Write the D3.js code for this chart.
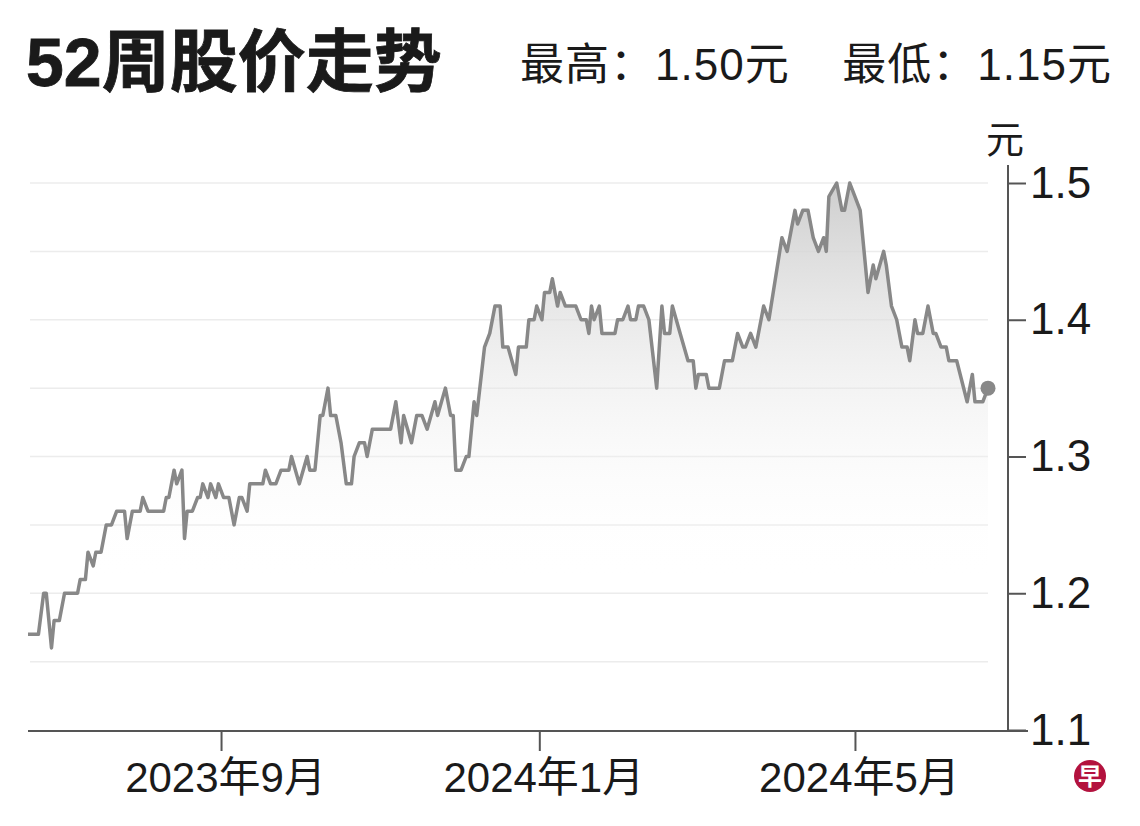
<!DOCTYPE html>
<html>
<head>
<meta charset="utf-8">
<script src="https://cdn.jsdelivr.net/npm/d3@7"></script>
<style>
  body { margin: 0; background: #fff; }
  svg text { font-family: "Liberation Sans", Arial, "Noto Sans CJK SC", sans-serif; fill: #1a1a1a; }
  .title { font-weight: bold; }
  .axis path { display: none; }
  .axis line { stroke: #555; stroke-width: 2; }
</style>
</head>
<body>
<div id="chart"></div>
<script>
// daily close
const dates = [
  '2023-06-19','2023-06-23','2023-06-25','2023-06-26','2023-06-28','2023-06-29','2023-07-01','2023-07-03','2023-07-08','2023-07-09',
  '2023-07-11','2023-07-12','2023-07-14','2023-07-15','2023-07-17','2023-07-19','2023-07-21','2023-07-23','2023-07-26','2023-07-27',
  '2023-07-29','2023-08-01','2023-08-02','2023-08-04','2023-08-10','2023-08-11','2023-08-12','2023-08-14','2023-08-15','2023-08-17',
  '2023-08-18','2023-08-19','2023-08-21','2023-08-23','2023-08-24','2023-08-25','2023-08-27','2023-08-28','2023-08-30','2023-08-31',
  '2023-09-02','2023-09-04','2023-09-06','2023-09-08','2023-09-09','2023-09-11','2023-09-12','2023-09-17','2023-09-18','2023-09-20',
  '2023-09-22','2023-09-24','2023-09-27','2023-09-28','2023-10-01','2023-10-04','2023-10-05','2023-10-07','2023-10-09','2023-10-10',
  '2023-10-12','2023-10-13','2023-10-15','2023-10-17','2023-10-19','2023-10-21','2023-10-22','2023-10-24','2023-10-26','2023-10-27',
  '2023-10-29','2023-11-05','2023-11-07','2023-11-09','2023-11-10','2023-11-13','2023-11-15','2023-11-17','2023-11-19','2023-11-22',
  '2023-11-23','2023-11-26','2023-11-28','2023-11-29','2023-11-30','2023-12-02','2023-12-04','2023-12-05','2023-12-07','2023-12-08',
  '2023-12-11','2023-12-13','2023-12-15','2023-12-17','2023-12-18','2023-12-20','2023-12-23','2023-12-24','2023-12-27','2023-12-28',
  '2023-12-30','2023-12-31','2024-01-02','2024-01-03','2024-01-05','2024-01-06','2024-01-08','2024-01-09','2024-01-11','2024-01-15',
  '2024-01-17','2024-01-19','2024-01-20','2024-01-21','2024-01-22','2024-01-24','2024-01-25','2024-01-30','2024-01-31','2024-02-02',
  '2024-02-04','2024-02-05','2024-02-07','2024-02-08','2024-02-10','2024-02-12','2024-02-15','2024-02-17','2024-02-18','2024-02-20',
  '2024-02-21','2024-02-24','2024-02-27','2024-02-29','2024-03-01','2024-03-02','2024-03-05','2024-03-06','2024-03-10','2024-03-12',
  '2024-03-15','2024-03-17','2024-03-19','2024-03-20','2024-03-22','2024-03-24','2024-03-27','2024-03-29','2024-04-03','2024-04-05',
  '2024-04-08','2024-04-09','2024-04-11','2024-04-13','2024-04-15','2024-04-17','2024-04-19','2024-04-20','2024-04-21','2024-04-24',
  '2024-04-26','2024-04-27','2024-04-29','2024-05-01','2024-05-03','2024-05-06','2024-05-08','2024-05-09','2024-05-12','2024-05-13',
  '2024-05-15','2024-05-17','2024-05-19','2024-05-21','2024-05-22','2024-05-24','2024-05-25','2024-05-27','2024-05-29','2024-05-31',
  '2024-06-01','2024-06-03','2024-06-05','2024-06-06','2024-06-09','2024-06-13','2024-06-15','2024-06-16','2024-06-19','2024-06-21'
]
const prices = [
  1.17,1.17,1.20,1.20,1.16,1.18,1.18,1.20,1.20,1.21,
  1.21,1.23,1.22,1.23,1.23,1.25,1.25,1.26,1.26,1.24,
  1.26,1.26,1.27,1.26,1.26,1.27,1.27,1.29,1.28,1.29,
  1.24,1.26,1.26,1.27,1.27,1.28,1.27,1.28,1.27,1.28,
  1.27,1.27,1.25,1.27,1.27,1.26,1.28,1.28,1.29,1.28,
  1.28,1.29,1.29,1.30,1.28,1.30,1.29,1.29,1.33,1.33,
  1.35,1.33,1.33,1.31,1.28,1.28,1.30,1.31,1.31,1.30,
  1.32,1.32,1.34,1.31,1.33,1.31,1.33,1.33,1.32,1.34,
  1.33,1.35,1.33,1.33,1.29,1.29,1.30,1.30,1.34,1.33,
  1.38,1.39,1.41,1.41,1.38,1.38,1.36,1.38,1.38,1.40,
  1.40,1.41,1.40,1.42,1.42,1.43,1.41,1.42,1.41,1.41,
  1.40,1.40,1.39,1.41,1.40,1.41,1.39,1.39,1.40,1.40,
  1.41,1.40,1.40,1.41,1.41,1.40,1.35,1.41,1.39,1.39,
  1.41,1.39,1.37,1.37,1.35,1.36,1.36,1.35,1.35,1.37,
  1.37,1.39,1.38,1.38,1.39,1.38,1.41,1.40,1.46,1.45,
  1.48,1.47,1.48,1.48,1.46,1.45,1.46,1.45,1.49,1.50,
  1.48,1.48,1.50,1.49,1.48,1.42,1.44,1.43,1.45,1.44,
  1.41,1.40,1.38,1.38,1.37,1.40,1.39,1.39,1.41,1.39,
  1.39,1.38,1.38,1.37,1.37,1.34,1.36,1.34,1.34,1.35
]
const yTicks = [1.1, 1.2, 1.3, 1.4, 1.5]
const gridLevels = [1.15, 1.2, 1.25, 1.3, 1.35, 1.4, 1.45, 1.5]
const xTicks = ['2023-09-01', '2024-01-01', '2024-05-01']
const title = '52周股价走势'
const highText = '最高：1.50元'
const lowText = '最低：1.15元'
const unit = '元'

const W = 1140, H = 826
const parse = d3.timeParse('%Y-%m-%d')
const data = dates.map((d, i) => ({date: parse(d), price: prices[i]}))

const svg = d3.select('#chart').append('svg')
  .attr('width', W).attr('height', H)

const x = d3.scaleTime()
  .domain(d3.extent(data, d => d.date))
  .range([28, 988])

const y = d3.scaleLinear()
  .domain([1.1, 1.5])
  .range([730, 183])

// gridlines
svg.append('g').selectAll('line')
  .data(gridLevels)
  .join('line')
  .attr('x1', 30).attr('x2', 988)
  .attr('y1', d => y(d)).attr('y2', d => y(d))
  .attr('stroke', '#ececec').attr('stroke-width', 1.5)

// area gradient
const grad = svg.append('defs').append('linearGradient')
  .attr('id', 'fade').attr('gradientUnits', 'userSpaceOnUse')
  .attr('x1', 0).attr('x2', 0).attr('y1', y(1.5)).attr('y2', y(1.21))
grad.append('stop').attr('offset', 0).attr('stop-color', '#cecece')
grad.append('stop').attr('offset', 1).attr('stop-color', '#ffffff').attr('stop-opacity', 0)

const area = d3.area()
  .x(d => x(d.date))
  .y0(y(1.1))
  .y1(d => y(d.price))

svg.append('path')
  .datum(data)
  .attr('d', area)
  .attr('fill', 'url(#fade)')

const line = d3.line()
  .x(d => x(d.date))
  .y(d => y(d.price))

svg.append('path')
  .datum(data)
  .attr('d', line)
  .attr('fill', 'none')
  .attr('stroke', '#888')
  .attr('stroke-width', 3.5)
  .attr('stroke-linejoin', 'round')

const last = data[data.length - 1]
svg.append('circle')
  .attr('cx', x(last.date)).attr('cy', y(last.price))
  .attr('r', 7.5).attr('fill', '#888')

// axes
const axisX = 1008
svg.append('line')
  .attr('x1', 28).attr('x2', 1028)
  .attr('y1', y(1.1) + 1).attr('y2', y(1.1) + 1)
  .attr('stroke', '#555').attr('stroke-width', 2)
svg.append('line')
  .attr('x1', axisX).attr('x2', axisX)
  .attr('y1', 165).attr('y2', y(1.1) + 1)
  .attr('stroke', '#555').attr('stroke-width', 2)

svg.append('g').attr('class', 'axis')
  .attr('transform', `translate(${axisX},0)`)
  .call(d3.axisRight(y).tickValues(yTicks).tickSize(18).tickPadding(4).tickFormat(d3.format('.1f')))
  .call(g => g.selectAll('text').attr('font-size', 44).attr('fill', '#1a1a1a'))

svg.append('g').attr('class', 'axis')
  .attr('transform', `translate(0,${y(1.1) + 1})`)
  .call(d3.axisBottom(x).tickValues(xTicks.map(parse)).tickSize(20).tickPadding(11)
    .tickFormat(d => `${d.getFullYear()}年${d.getMonth() + 1}月`))
  .call(g => g.selectAll('text').attr('font-size', 42).attr('fill', '#1a1a1a').attr('dx', 4))

svg.append('text')
  .attr('x', axisX - 3).attr('y', 153)
  .attr('text-anchor', 'middle')
  .attr('font-size', 38)
  .text(unit)

// header
svg.append('text').attr('class', 'title')
  .attr('x', 26).attr('y', 86)
  .attr('font-size', 68)
  .attr('stroke', '#1a1a1a').attr('stroke-width', 0.8)
  .text(title)
svg.append('text')
  .attr('x', 520).attr('y', 80)
  .attr('font-size', 44).attr('letter-spacing', 1)
  .text(highText)
svg.append('text')
  .attr('x', 1112).attr('y', 80)
  .attr('text-anchor', 'end')
  .attr('font-size', 44).attr('letter-spacing', 1)
  .text(lowText)

// logo
svg.append('circle').attr('cx', 1090).attr('cy', 776).attr('r', 16).attr('fill', '#b3123e')
svg.append('text')
  .attr('x', 1090).attr('y', 785)
  .attr('text-anchor', 'middle')
  .attr('font-size', 24).attr('font-weight', 'bold')
  .style('fill', '#fff')
  .style('font-family', '"Noto Sans CJK SC", sans-serif')
  .text('早')
</script>
</body>
</html>
